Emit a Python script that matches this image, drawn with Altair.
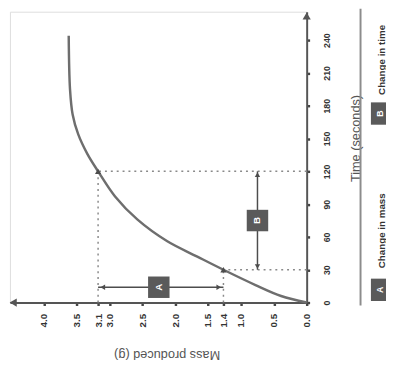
import altair as alt
import pandas as pd

# ---- data ----
curve_time = [0, 6, 16, 30, 42, 56, 76, 97, 120, 136, 154, 172, 195, 244]
curve_mass = [0, 0.39, 0.78, 1.4, 1.66, 2.12, 2.58, 2.92, 3.1, 3.30, 3.47, 3.56, 3.6, 3.62]

mark_time = [30, 120]
mark_mass = [1.4, 3.1]

mass_ticks = [0, 0.5, 1.0, 1.4, 1.5, 2.0, 2.5, 3.0, 3.1, 3.5, 4.0]
time_ticks = [0, 30, 60, 90, 120, 150, 180, 210, 240]

A_time = 14          # height of the "change in mass" arrow
B_mass = 0.75        # position of the "change in time" arrow
legend_letters = ["A", "B"]
legend_texts = ["Change in mass", "Change in time"]

X_MAX = 4.52
Y_MAX = 266

FONT = "Liberation Sans"
DARK = "#4d4d4d"

# the source figure spaces the 1.4 and 3.1 ticks apart from their neighbours,
# so the mass axis is piecewise linear
xs = alt.Scale(domain=[0, 1.0, 1.4, 1.5, 3.0, 3.1, 3.5, X_MAX],
               range=[303, 236, 218, 202, 102, 90, 68, 0], nice=False, zero=False)
ys = alt.Scale(domain=[0, Y_MAX], nice=False, zero=False)

curve_df = pd.DataFrame({"t": curve_time, "m": curve_mass, "o": range(len(curve_time))})

x_axis = alt.Axis(
    values=mass_ticks, format=".1f", labelAngle=270, labelAlign="right",
    labelBaseline="middle", labelPadding=8, labelOverlap=False, labelFlush=False,
    labelFontSize=10, labelColor="#333333", labelFont=FONT, labelFontWeight="bold",
    tickSize=3, tickWidth=2.5, tickColor="#444444",
    domainColor="#555555", domainWidth=2, grid=False,
    title="Mass produced (g)", titleAngle=180, titleX=160, titleY=53,
    titleAlign="center", titleBaseline="middle", titleFontSize=13,
    titleFontWeight="normal", titleColor="#555555", titleFont=FONT,
)
y_axis = alt.Axis(
    orient="right", values=time_ticks, labelAngle=270, labelAlign="center",
    labelBaseline="top", labelPadding=13, labelOverlap=False, labelFlush=False,
    labelFontSize=9, labelColor="#333333", labelFont=FONT, labelFontWeight="bold",
    tickSize=3, tickWidth=2.5, tickColor="#444444",
    domainColor="#555555", domainWidth=2, grid=False,
    title="Time (seconds)", titleAngle=270, titleX=50, titleY=129,
    titleAlign="center", titleBaseline="middle", titleFontSize=13,
    titleFontWeight="normal", titleColor="#555555", titleFont=FONT,
)

X = alt.X("m:Q", scale=xs, axis=x_axis)
Y = alt.Y("t:Q", scale=ys, axis=y_axis)

curve = alt.Chart(curve_df).mark_line(color="#6e6e6e", strokeWidth=2.5, interpolate="catmull-rom").encode(
    x=X, y=Y, order="o:Q",
)

# dotted guide lines
guides = pd.DataFrame({
    "m": [0, 0, mark_mass[0], mark_mass[1]],
    "m2": [mark_mass[0], mark_mass[1], mark_mass[0], mark_mass[1]],
    "t": [mark_time[0], mark_time[1], 0, 0],
    "t2": [mark_time[0], mark_time[1], mark_time[0], mark_time[1]],
})
guide_rules = alt.Chart(guides).mark_rule(color="#8a8a8a", strokeWidth=1.5, strokeDash=[2, 4]).encode(
    x=X, x2="m2:Q", y=Y, y2="t2:Q"
)

marks = alt.Chart(pd.DataFrame({"m": mark_mass, "t": mark_time})).mark_point(
    shape="triangle-up", filled=True, color=DARK, size=40, opacity=1
).encode(x=X, y=Y)

# A arrow (change in mass)
a_rule = alt.Chart(pd.DataFrame({"m": [mark_mass[0]], "m2": [mark_mass[1]], "t": [A_time]})).mark_rule(
    color=DARK, strokeWidth=1.5
).encode(x=X, x2="m2:Q", y=Y)
a_heads = alt.Chart(pd.DataFrame({
    "m": [mark_mass[1] - 0.04, mark_mass[0] + 0.03], "t": [A_time, A_time],
    "s": ["triangle-left", "triangle-right"]})).mark_point(filled=True, color=DARK, size=30, opacity=1).encode(
    x=X, y=Y, shape=alt.Shape("s:N", scale=None))

# B arrow (change in time)
b_rule = alt.Chart(pd.DataFrame({"m": [B_mass], "t": [mark_time[0]], "t2": [mark_time[1]]})).mark_rule(
    color=DARK, strokeWidth=1.5
).encode(x=X, y=Y, y2="t2:Q")
b_heads = alt.Chart(pd.DataFrame({
    "m": [B_mass, B_mass], "t": [mark_time[1] - 3, mark_time[0] + 3],
    "s": ["triangle-up", "triangle-down"]})).mark_point(filled=True, color=DARK, size=30, opacity=1).encode(
    x=X, y=Y, shape=alt.Shape("s:N", scale=None))

# label boxes
box_df = pd.DataFrame({
    "m": [(mark_mass[0] + mark_mass[1]) / 2, B_mass],
    "t": [A_time, (mark_time[0] + mark_time[1]) / 2],
    "lab": legend_letters,
})
boxes = alt.Chart(box_df).mark_square(size=480, color="#5a5a5a", opacity=1).encode(x=X, y=Y)
box_text = alt.Chart(box_df).mark_text(
    color="white", fontWeight="bold", fontSize=10, angle=270, font=FONT
).encode(x=X, y=Y, text="lab:N")

# axis arrowheads
x_arrow = alt.Chart(pd.DataFrame({"m": [X_MAX - 0.05], "t": [0]})).mark_point(
    shape="triangle-left", filled=True, color="#555555", size=70, opacity=1
).encode(x=X, y=Y)
y_arrow = alt.Chart(pd.DataFrame({"m": [0], "t": [Y_MAX - 4]})).mark_point(
    shape="triangle-up", filled=True, color="#555555", size=70, opacity=1
).encode(x=X, y=Y)

# legend (laid out beside the plot)
leg_line = alt.Chart(pd.DataFrame({"a": [0]})).mark_rule(color="#8c8c8c", strokeWidth=2).encode(
    x=alt.value(358), y=alt.value(-3), y2=alt.value(300))
leg_df = pd.DataFrame({"lab": legend_letters, "txt": legend_texts,
                       "by": [284, 104], "ty": [262, 85]})
leg_boxes = alt.Chart(leg_df).mark_square(size=520, color="#5a5a5a", opacity=1).encode(
    x=alt.value(380), y=alt.Y("by:Q", scale=None))
leg_letters = alt.Chart(leg_df).mark_text(
    color="white", fontWeight="bold", fontSize=9, angle=270, font=FONT
).encode(x=alt.value(378), y=alt.Y("by:Q", scale=None), text="lab:N")
leg_texts = alt.Chart(leg_df).mark_text(
    color="#333333", fontWeight="bold", fontSize=10, angle=270, align="left", baseline="middle", font=FONT
).encode(x=alt.value(380), y=alt.Y("ty:Q", scale=None), text="txt:N")

chart = alt.layer(
    curve, guide_rules, a_rule, a_heads, b_rule, b_heads, boxes, box_text, marks,
    x_arrow, y_arrow, leg_line, leg_boxes, leg_letters, leg_texts
).properties(
    width=303, height=297,
    padding={"left": 2, "top": 0, "right": 81, "bottom": 60},
    autosize=alt.AutoSizeParams(type="none"),
).configure_view(stroke=None).configure_axis(
    labelOverlap=False, labelFlush=False
).configure(background="white")

chart.save("out.html", embed_options={"renderer": "svg", "actions": False})
